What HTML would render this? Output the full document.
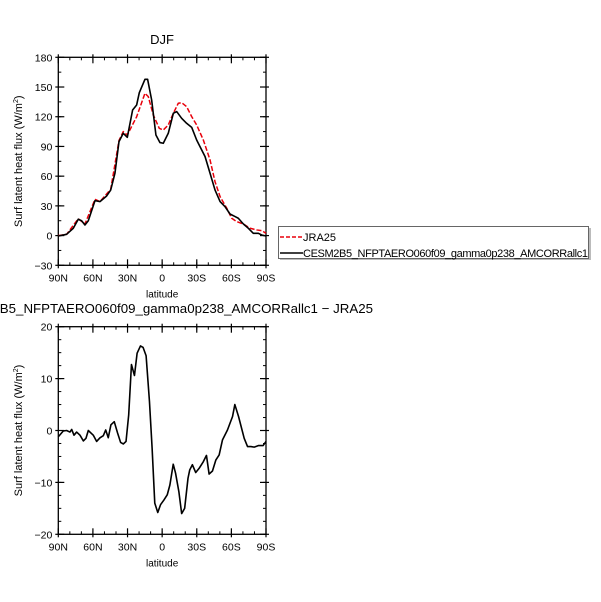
<!DOCTYPE html>
<html><head><meta charset="utf-8"><style>
html,body{margin:0;padding:0;background:#fff;}
svg{display:block;font-family:"Liberation Sans",sans-serif;}
</style></head><body>
<svg id="c" width="601" height="602" viewBox="0 0 601 602"></svg>
<script>
const xTickLats=[90,60,30,0,-30,-60,-90];
const xTickLabels=["90N","60N","30N","0","30S","60S","90S"];
const topYTicks=[-30,0,30,60,90,120,150,180];
const botYTicks=[-20,-10,0,10,20];
const blackLat=[90,82.8,77,72.7,69.8,66.9,64,58.2,53.9,48.1,44.6,40.9,37.4,33.7,30.2,25.6,22.1,19.8,14.9,12.6,9.1,5.4,1.9,-1,-5.3,-9.7,-12.6,-16.9,-21.2,-25.6,-29.9,-32.8,-37.2,-41.5,-45.8,-50.2,-54.5,-58.8,-63.2,-66,-70.4,-74.7,-79,-83.4,-86.3,-90];
const blackVal=[-0.4,1.3,7.4,16.5,15,10.7,15,35.3,34.3,40,46,63,94.9,103.3,99.2,126.8,131.9,144.3,157.8,157.8,136.9,101.6,93.9,93.2,103.3,123.5,125.2,118.4,113.4,109.3,96.5,89.8,79.7,62.9,46.1,34.3,29.2,21.8,19.2,17.5,11.7,7.4,2.3,2.3,0.6,-0.4];
const redLat=[90,82.8,72.7,66.9,58.2,53.9,44.6,37.4,33.7,30.2,22.1,14.9,12,7.7,2.5,-1,-5.3,-9.7,-14,-16.9,-21.2,-25.6,-29.9,-35.7,-41.5,-45.8,-50.2,-56,-60.3,-64.6,-70.4,-76.2,-82,-86.3,-90];
const redVal=[0,1.3,17,11.7,36.6,34.3,46.7,96,105,101.6,120,143.7,140.3,121.8,108.3,106.6,111.7,123.5,133.6,134.2,130.2,120.1,111.7,96.5,76.4,54.5,39.3,27.6,17.5,14.1,11.7,7.4,5.7,5,2.3];
const diffLat=[90,85.7,82.8,79.9,78.4,76.4,74.1,71.2,68.3,66,64,59.7,56.8,53.9,51,48.9,46.7,44.4,41.5,38.6,36,33.7,31.3,29,26.6,24,21.7,18.8,16.5,13.9,11,8.7,6.4,3.8,1.4,-1.5,-4.4,-6.7,-9.6,-11.6,-14.5,-16.9,-19.5,-22.4,-23.9,-26.2,-29.1,-32,-35.7,-38.4,-40.7,-43.6,-46.5,-49.4,-52.3,-56.6,-61,-63,-66.2,-71.1,-74,-76.9,-79.8,-83.6,-87.5,-90];
const diffVal=[-1.2,-0.1,0,-0.3,0.2,-0.9,-0.3,-0.9,-2,-1.5,0,-0.9,-2.1,-1.4,-1,0.1,-1.4,1.1,1.7,-0.5,-2.3,-2.6,-2.1,3,12.7,10.6,14.9,16.3,16,14.4,5.6,-3.4,-14,-15.8,-14.3,-13.4,-12.4,-10.5,-6.5,-8.2,-11.8,-16,-15,-9.2,-7.6,-6.6,-8.1,-7.3,-6,-4.8,-8.4,-7.8,-5.7,-4.7,-1.8,0.1,2.7,5,2.7,-1.5,-3.1,-3.1,-3.2,-2.9,-2.9,-2.1];

const NS="http://www.w3.org/2000/svg";
const svg=document.getElementById('c');
function mk(tag,attrs,parent){const e=document.createElementNS(NS,tag);for(const k in attrs)e.setAttribute(k,attrs[k]);(parent||svg).appendChild(e);return e;}
const L=58.3,R=266;
function xs(lat){return L+(90-lat)/180*(R-L);}

function panel(name,top,bot,ymin,ymax,yticks,minorStep){
  const g=mk('g',{});
  
  
  const ys=v=>bot-(v-ymin)/(ymax-ymin)*(bot-top);
  for(let v=ymin;v<=ymax+1e-9;v+=minorStep){
    const y=ys(v);
    mk('line',{x1:L,x2:L+3,y1:y,y2:y,stroke:'#000','stroke-width':1},g);
    mk('line',{x1:R,x2:R-3,y1:y,y2:y,stroke:'#000','stroke-width':1},g);
  }
  for(let lat=90;lat>=-90;lat-=10){
    const x=xs(lat);
    mk('line',{x1:x,x2:x,y1:bot,y2:bot-3,stroke:'#000','stroke-width':1},g);
    mk('line',{x1:x,x2:x,y1:top,y2:top+3,stroke:'#000','stroke-width':1},g);
  }
  yticks.forEach(v=>{
    const y=ys(v);
    mk('line',{x1:L-3,x2:L+6,y1:y,y2:y,stroke:'#000','stroke-width':1.2},g);
    mk('line',{x1:R+3,x2:R-6,y1:y,y2:y,stroke:'#000','stroke-width':1.2},g);
    const t=mk('text',{x:L-6,y:y+4,'text-anchor':'end','font-size':10.5,fill:'#000'},g);
    
    
    t.textContent=v===0?'0':String(v).replace('-','\u2212');
  });
  xTickLats.forEach((lat,i)=>{
    const x=xs(lat);
    mk('line',{x1:x,x2:x,y1:bot+3,y2:bot-6,stroke:'#000','stroke-width':1.2},g);
    mk('line',{x1:x,x2:x,y1:top-3,y2:top+6,stroke:'#000','stroke-width':1.2},g);
    const t=mk('text',{x:x,y:bot+16,'text-anchor':'middle','font-size':10.5,fill:'#000'},g);
    
    
    t.textContent=xTickLabels[i];
  });
  const fr=mk('rect',{x:L,y:top,width:R-L,height:bot-top,fill:'none',stroke:'#000','stroke-width':1.3},g);
  
  
  const xl=mk('text',{x:(L+R)/2,y:bot+32,'text-anchor':'middle','font-size':10,fill:'#000'},g);
  
  
  xl.textContent='latitude';
  const yl=mk('text',{x:0,y:0,'text-anchor':'middle','font-size':11,fill:'#000',transform:`translate(22,${(top+bot)/2}) rotate(-90)`},g);
  
  
  yl.innerHTML='Surf latent heat flux (W/m<tspan font-size="7" dy="-4">2</tspan><tspan dy="4">)</tspan>';
  return {g,ys};
}

const p1=panel('top-panel',57.3,265.3,-30,180,topYTicks,15);
const p2=panel('bottom-panel',326.7,534.3,-20,20,botYTicks,2.5);

function line(lats,vals,ys,attrs,name){
  const d=lats.map((la,i)=>(i?'L':'M')+xs(la).toFixed(2)+','+ys(vals[i]).toFixed(2)).join('');
  const p=mk('path',Object.assign({d:d,fill:'none','stroke-linejoin':'round'},attrs));
  
  
}
line(redLat,redVal,p1.ys,{stroke:'#e8000b','stroke-width':1.5,'stroke-dasharray':'5,2'},'jra25-line');
line(blackLat,blackVal,p1.ys,{stroke:'#000','stroke-width':1.6},'cesm-line');
line(diffLat,diffVal,p2.ys,{stroke:'#000','stroke-width':1.6},'difference-line');

let t=mk('text',{x:162,y:44,'text-anchor':'middle','font-size':13,fill:'#000'});


t.textContent='DJF';
t=mk('text',{x:-46,y:313,'font-size':13,fill:'#000',textLength:419,lengthAdjust:'spacingAndGlyphs'});


t.textContent='CESM2B5_NFPTAERO060f09_gamma0p238_AMCORRallc1 \u2212 JRA25';

const lg=mk('g',{});


mk('rect',{x:280,y:228,width:311,height:32,fill:'#bbb'},lg);
mk('rect',{x:278.5,y:226.5,width:310,height:32,fill:'#fff',stroke:'#666','stroke-width':1},lg);
mk('line',{x1:280,x2:303,y1:237,y2:237,stroke:'#e8000b','stroke-width':1.5,'stroke-dasharray':'4,2'},lg);
mk('line',{x1:280,x2:303,y1:253,y2:253,stroke:'#000','stroke-width':1.5},lg);
t=mk('text',{x:303,y:241,'font-size':11,fill:'#000'},lg);


t.textContent='JRA25';
t=mk('text',{x:303,y:257,'font-size':11,fill:'#000',textLength:285},lg);


t.textContent='CESM2B5_NFPTAERO060f09_gamma0p238_AMCORRallc1';
</script>
</body></html>
